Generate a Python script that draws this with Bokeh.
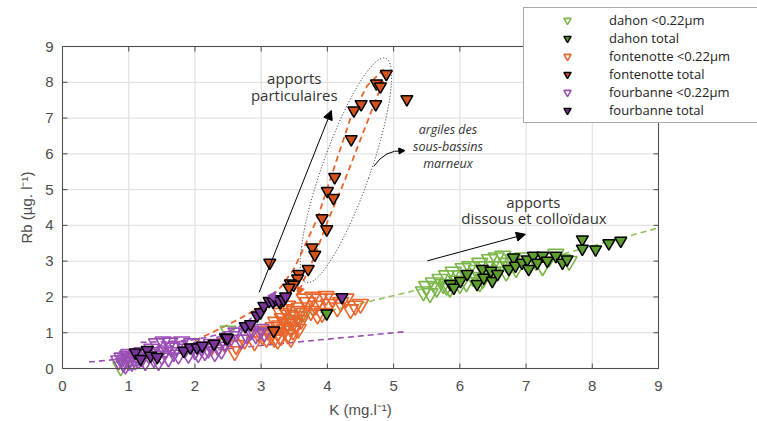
import math
from bokeh.plotting import figure
from bokeh.models import Legend, LegendItem, Label, Arrow, NormalHead, Range1d
from bokeh.embed import file_html
from bokeh.resources import INLINE

# ---------------- data ----------------
x_ticks = [0, 1, 2, 3, 4, 5, 6, 7, 8, 9]
y_ticks = [0, 1, 2, 3, 4, 5, 6, 7, 8, 9]
x_tick_labels = ["0", "1", "2", "3", "4", "5", "6", "7", "8", "9"]
y_tick_labels = ["0", "1", "2", "3", "4", "5", "6", "7", "8", "9"]

dahon_open_k = [5.45, 5.50, 5.55, 5.60, 5.65, 5.70, 5.75, 5.80, 5.85, 5.90, 5.95, 6.00, 6.05, 6.10,
                6.15, 6.20, 6.25, 6.30, 6.35, 6.40, 6.45, 6.50, 6.55, 6.60, 6.65, 6.70, 6.80, 6.85,
                6.95, 7.05, 7.15, 7.25, 7.35, 7.45, 7.55, 7.65, 6.00, 6.30, 5.80, 6.70,
                3.55, 3.65, 3.45, 2.50, 0.88]
dahon_open_rb = [2.15, 2.30, 2.10, 2.40, 2.25, 2.50, 2.35, 2.60, 2.25, 2.70, 2.45, 2.60, 2.80, 2.40,
                 2.85, 2.55, 2.75, 2.95, 2.50, 2.85, 3.05, 2.70, 3.10, 2.85, 3.15, 2.95, 3.05, 2.80,
                 3.10, 2.90, 3.00, 2.85, 3.10, 3.20, 3.05, 3.00, 2.35, 2.40, 2.30, 2.70,
                 1.45, 1.55, 1.30, 1.05, 0.05]

dahon_tot_k = [5.86, 5.91, 6.01, 6.11, 6.26, 6.34, 6.36, 6.47, 6.49, 6.57, 6.74, 6.81, 6.84, 6.94,
               7.02, 7.04, 7.11, 7.17, 7.25, 7.32, 7.45, 7.55, 7.62, 7.85, 7.85, 8.05, 8.25, 8.43, 3.99]
dahon_tot_rb = [2.36, 2.26, 2.45, 2.64, 2.36, 2.78, 2.54, 2.73, 2.45, 2.64, 2.78, 3.10, 2.87, 2.96,
                3.05, 2.78, 3.15, 2.96, 3.15, 3.01, 3.15, 2.96, 3.05, 3.61, 3.35, 3.33, 3.50, 3.57, 1.54]

font_open_k = [2.25, 2.45, 2.60, 2.62, 2.75, 2.90, 2.95, 3.02, 3.08, 3.10,
               3.15, 3.18, 3.20, 3.22, 3.25, 3.28, 3.30, 3.32, 3.35, 3.38, 3.40, 3.42, 3.44, 3.46,
               3.48, 3.50, 3.52, 3.54, 3.56, 3.58, 3.60, 3.62, 3.30, 3.36, 3.25, 3.45, 3.40,
               3.70, 3.75, 3.78, 3.82, 3.88, 3.92, 3.98, 4.02, 4.08, 4.15, 4.20, 4.28, 4.35, 4.42,
               4.50, 3.65, 3.85]
font_open_rb = [0.62, 0.70, 0.48, 0.65, 0.80, 0.75, 1.00, 0.92, 0.85, 1.05,
                0.95, 1.15, 0.85, 1.30, 1.00, 1.20, 0.90, 1.40, 1.10, 1.25, 0.95, 1.50, 1.15, 1.35,
                1.05, 1.60, 1.25, 1.45, 1.10, 1.70, 1.35, 1.55, 1.55, 1.65, 0.80, 0.85, 1.75,
                1.85, 1.60, 2.00, 1.75, 1.95, 1.55, 2.02, 1.80, 1.95, 1.70, 1.85, 1.95, 1.65, 1.75,
                1.80, 1.95, 1.50]

font_tot_k = [4.89, 4.74, 4.80, 5.20, 4.73, 4.51, 4.40, 4.36, 4.11, 4.00, 4.09, 3.92, 3.99, 3.77,
              3.81, 3.71, 3.57, 3.55, 3.44, 3.49, 3.42, 3.13, 3.29, 3.19]
font_tot_rb = [8.23, 7.97, 7.88, 7.53, 7.39, 7.39, 7.21, 6.41, 5.35, 4.96, 4.77, 4.20, 3.89, 3.38,
               3.18, 2.78, 2.64, 2.52, 2.38, 2.34, 2.26, 2.96, 1.85, 1.06]

four_open_k = [0.85, 0.90, 0.92, 0.95, 0.98, 1.00, 1.02, 1.05, 1.08, 1.10, 1.12, 1.15, 1.20, 1.25,
               1.30, 1.35, 1.38, 1.42, 1.45, 1.50, 1.52, 1.55, 1.60, 1.62, 1.68, 1.72, 1.75, 1.80,
               1.85, 1.90, 1.95, 2.00, 2.05, 2.10, 2.15, 2.20, 2.25, 2.30, 2.35, 2.40, 2.45, 2.55,
               2.62, 2.70, 2.78, 2.85, 2.92, 3.00, 3.05, 1.20, 1.00, 0.95, 1.45, 1.65]
four_open_rb = [0.22, 0.30, 0.15, 0.25, 0.35, 0.20, 0.28, 0.18, 0.32, 0.22, 0.38, 0.25, 0.30, 0.20,
                0.40, 0.55, 0.28, 0.70, 0.45, 0.35, 0.75, 0.50, 0.30, 0.72, 0.45, 0.62, 0.38, 0.75,
                0.55, 0.40, 0.70, 0.50, 0.42, 0.60, 0.48, 0.55, 0.68, 0.45, 0.60, 0.52, 0.75, 0.90,
                1.00, 0.80, 0.95, 1.05, 0.95, 1.10, 1.00, 0.45, 0.40, 0.10, 0.20, 0.58]

four_tot_k = [1.10, 1.18, 1.28, 1.33, 1.43, 1.83, 1.93, 2.03, 2.11, 2.29, 2.46, 2.49, 2.76, 2.84,
              2.94, 2.99, 3.04, 3.12, 3.18, 3.22, 3.27, 3.34, 3.37, 4.22]
four_tot_rb = [0.45, 0.27, 0.52, 0.36, 0.32, 0.50, 0.59, 0.59, 0.64, 0.69, 0.87, 0.85, 1.18, 1.24,
               1.48, 1.57, 1.75, 1.89, 1.87, 1.94, 1.89, 1.92, 2.01, 1.99]

# trend curves
green_fit_k = [3.60, 4.05, 5.10, 6.00, 7.60, 9.00]
green_fit_rb = [1.45, 1.62, 2.08, 2.48, 3.22, 3.93]
purple_lin_k = [0.40, 5.18]
purple_lin_rb = [0.18, 1.03]
purple_fit_k = [1.18, 1.50, 1.90, 2.20, 2.50, 2.75, 2.95, 3.10, 3.22]
purple_fit_rb = [0.73, 0.75, 0.78, 0.88, 1.03, 1.25, 1.55, 1.85, 2.15]
orange_a_k = [2.00, 2.50, 3.00, 3.30, 3.50, 3.70, 3.85, 4.10, 4.35, 4.60, 4.85]
orange_a_rb = [0.78, 1.22, 1.72, 2.28, 2.80, 3.60, 4.20, 5.60, 7.00, 7.90, 8.36]
orange_b_k = [4.90, 4.75, 4.50, 4.25, 4.00, 3.80, 3.65, 3.55]
orange_b_rb = [8.30, 7.60, 6.40, 5.20, 4.10, 3.10, 2.50, 2.05]

GREEN_O, GREEN_F = "#7ab648", "#5e9e2e"
ORANGE_O, ORANGE_F = "#ea652c", "#d4531c"
PURPLE_O, PURPLE_F = "#9b4fb5", "#7a3399"
TXT = "#333333"
AX = "#4d4d4d"

# ---------------- layout: frame covers the canvas, axes drawn at data 0..9 ----------------
W, H = 757, 421
FL, FT, FW, FH = 62, 46, 596, 322          # plot box in pixels
SX, SY = FW / 9.0, FH / 9.0
p = figure(width=W, height=H,
           x_range=Range1d(-FL / SX, 9 + (W - FL - FW) / SX),
           y_range=Range1d(-(H - FT - FH) / SY, 9 + FT / SY),
           x_axis_location=None, y_axis_location=None,
           output_backend="svg", toolbar_location=None, min_border=0,
           background_fill_color="white", border_fill_color="white")
p.grid.visible = False
p.outline_line_color = None

xmin, xmax = x_ticks[0], x_ticks[-1]
ymin, ymax = y_ticks[0], y_ticks[-1]

# grid
p.segment(x0=x_ticks, y0=[ymin] * len(x_ticks), x1=x_ticks, y1=[ymax] * len(x_ticks),
          line_color="#e3e3e3", line_width=1.3)
p.segment(x0=[xmin] * len(y_ticks), y0=y_ticks, x1=[xmax] * len(y_ticks), y1=y_ticks,
          line_color="#e3e3e3", line_width=1.3)

# ---------------- trend lines ----------------
p.line(green_fit_k, green_fit_rb, line_color="#8cc45a", line_width=1.6, line_dash="6 4")
p.line(purple_lin_k, purple_lin_rb, line_color=PURPLE_O, line_width=1.6, line_dash="6 4")
p.line(purple_fit_k, purple_fit_rb, line_color=PURPLE_O, line_width=1.6, line_dash="6 4")
p.line(orange_a_k, orange_a_rb, line_color=ORANGE_O, line_width=1.8, line_dash="6 4")
p.line(orange_b_k, orange_b_rb, line_color=ORANGE_O, line_width=1.8, line_dash="6 4")

p.add_layout(Arrow(end=NormalHead(size=8, fill_color=PURPLE_O, line_color=PURPLE_O),
                   x_start=purple_fit_k[-2], y_start=purple_fit_rb[-2],
                   x_end=purple_fit_k[-1], y_end=purple_fit_rb[-1], line_alpha=0))
p.add_layout(Arrow(end=NormalHead(size=8, fill_color=ORANGE_O, line_color=ORANGE_O),
                   x_start=orange_b_k[-2], y_start=orange_b_rb[-2],
                   x_end=orange_b_k[-1], y_end=orange_b_rb[-1], line_alpha=0))

# dotted ellipse around marl sub-basin samples
p.ellipse(x=[4.28], y=[5.54], width=48, height=238, width_units="screen", height_units="screen",
          angle=-0.34, fill_color=None, line_color="#222222", line_width=1, line_dash="1 2")

# ---------------- markers ----------------
r_do = p.scatter(dahon_open_k, dahon_open_rb, marker="inverted_triangle", size=16,
                 fill_color=None, line_color=GREEN_O, line_width=1.6)
r_fo = p.scatter(font_open_k, font_open_rb, marker="inverted_triangle", size=16,
                 fill_color=None, line_color=ORANGE_O, line_width=1.6)
r_po = p.scatter(four_open_k, four_open_rb, marker="inverted_triangle", size=16,
                 fill_color=None, line_color=PURPLE_O, line_width=1.6)
r_dt = p.scatter(dahon_tot_k, dahon_tot_rb, marker="inverted_triangle", size=12,
                 fill_color=GREEN_F, line_color="black", line_width=1.5)
r_ft = p.scatter(font_tot_k, font_tot_rb, marker="inverted_triangle", size=12,
                 fill_color=ORANGE_F, line_color="black", line_width=1.5)
r_pt = p.scatter(four_tot_k, four_tot_rb, marker="inverted_triangle", size=12,
                 fill_color=PURPLE_F, line_color="black", line_width=1.5)

# ---------------- axes box, inward ticks, tick labels ----------------
p.quad(left=[xmin], right=[xmax], bottom=[ymin], top=[ymax], fill_color=None,
       line_color=AX, line_width=1)
nx, ny = len(x_ticks), len(y_ticks)
p.ray(x=x_ticks, y=[ymin] * nx, length=5, length_units="screen", angle=math.pi / 2,
      line_color=AX, line_width=1)
p.ray(x=x_ticks, y=[ymax] * nx, length=5, length_units="screen", angle=-math.pi / 2,
      line_color=AX, line_width=1)
p.ray(x=[xmin] * ny, y=y_ticks, length=5, length_units="screen", angle=0,
      line_color=AX, line_width=1)
p.ray(x=[xmax] * ny, y=y_ticks, length=5, length_units="screen", angle=math.pi,
      line_color=AX, line_width=1)

p.text(x=x_ticks, y=[ymin] * nx, text=x_tick_labels, y_offset=17,
       text_align="center", text_baseline="middle", text_font={"value": "Liberation Sans"},
       text_font_size="15px", text_color=AX)
p.text(x=[xmin] * ny, y=y_ticks, text=y_tick_labels, x_offset=-9,
       text_align="right", text_baseline="middle", text_font={"value": "Liberation Sans"},
       text_font_size="15px", text_color=AX)
p.text(x=[(xmin + xmax) / 2], y=[ymin], text=["K (mg.l\u207b\u00b9)"], y_offset=41,
       text_align="center", text_baseline="middle", text_font={"value": "Liberation Sans"},
       text_font_size="15px", text_color=AX)
p.text(x=[xmin], y=[(ymin + ymax) / 2], text=["Rb (\u00b5g. l\u207b\u00b9)"], x_offset=-36,
       angle=math.pi / 2, text_align="center", text_baseline="middle",
       text_font={"value": "Liberation Sans"}, text_font_size="15px", text_color=AX)

# ---------------- annotations ----------------
p.add_layout(Arrow(end=NormalHead(size=9, fill_color="black", line_color="black"),
                   x_start=2.97, y_start=2.13, x_end=4.06, y_end=7.21,
                   line_color="black", line_width=1))
p.add_layout(Arrow(end=NormalHead(size=9, fill_color="black", line_color="black"),
                   x_start=5.51, y_start=3.01, x_end=6.99, y_end=3.75,
                   line_color="black", line_width=1))
p.quadratic(x0=[4.70], y0=[5.65], x1=[5.14], y1=[6.08], cx=[4.88], cy=[6.13],
            line_color="black", line_width=1)
p.add_layout(Arrow(end=NormalHead(size=6, fill_color="black", line_color="black"),
                   x_start=5.05, y_start=6.075, x_end=5.17, y_end=6.09, line_alpha=0))

def lab(x, y, t, size="15px", style="normal"):
    p.add_layout(Label(x=x, y=y, text=t, text_font="Open Sans", text_font_size=size,
                       text_font_style=style, text_color=TXT, text_align="center",
                       text_baseline="middle"))

lab(3.50, 8.11, "apports")
lab(3.50, 7.65, "particulaires")
lab(7.11, 4.66, "apports")
lab(7.12, 4.21, "dissous et collo\u00efdaux")
lab(5.82, 6.69, "argiles des", "12.5px", "italic")
lab(5.82, 6.21, "sous-bassins", "12.5px", "italic")
lab(5.82, 5.74, "marneux", "12.5px", "italic")

# ---------------- legend ----------------
legend = Legend(items=[
    LegendItem(label="dahon <0.22\u00b5m", renderers=[r_do]),
    LegendItem(label="dahon total", renderers=[r_dt]),
    LegendItem(label="fontenotte <0.22\u00b5m", renderers=[r_fo]),
    LegendItem(label="fontenotte total", renderers=[r_ft]),
    LegendItem(label="fourbanne <0.22\u00b5m", renderers=[r_po]),
    LegendItem(label="fourbanne total", renderers=[r_pt]),
], location=(523, 298))
legend.label_text_font = "Open Sans"
legend.label_text_font_size = "13px"
legend.label_text_color = "#222222"
legend.glyph_width = 80
legend.glyph_height = 18
legend.label_height = 18
legend.label_width = 145
legend.label_standoff = 2
legend.spacing = 0
legend.padding = 3
legend.margin = 0
legend.border_line_color = "#555555"
legend.border_line_width = 1
legend.background_fill_color = "white"
legend.background_fill_alpha = 1
p.add_layout(legend)

open("out.html", "w").write(file_html(p, INLINE))
